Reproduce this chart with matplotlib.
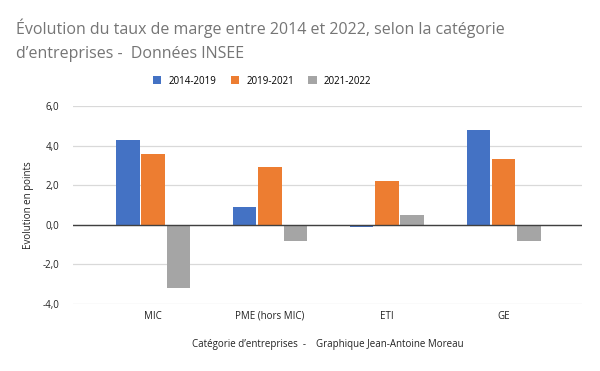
import numpy as np
import matplotlib
matplotlib.use("Agg")
import matplotlib.pyplot as plt
from matplotlib.ticker import FuncFormatter

categories = ["MIC", "PME (hors MIC)", "ETI", "GE"]
periods = ["2014-2019", "2019-2021", "2021-2022"]
v_2014_2019 = [4.3, 0.9, -0.1, 4.8]
v_2019_2021 = [3.6, 2.9, 2.2, 3.3]
v_2021_2022 = [-3.2, -0.8, 0.5, -0.8]
colors = ["#4472C4", "#ED7D31", "#A5A5A5"]

plt.rcParams['font.family'] = ['Open Sans', 'DejaVu Sans']

fig = plt.figure(figsize=(6, 3.71), dpi=100)
ax = fig.add_axes([73/600, 1-304/371, (582-73)/600, (304-106)/371])

x = np.arange(len(categories))
w = 0.197
step = 0.214
for i, (vals, lab) in enumerate(zip([v_2014_2019, v_2019_2021, v_2021_2022], periods)):
    ax.bar(x + (i-1)*step, vals, width=w, color=colors[i], label=lab, zorder=3)

ax.set_ylim(-4, 6)
ax.set_yticks([-4, -2, 0, 2, 4, 6])
ax.yaxis.set_major_formatter(FuncFormatter(lambda v, p: f"{v:.1f}".replace(".", ",")))
ax.set_xlim(-0.684, 3.667)
ax.set_xticks(x)
ax.set_xticklabels(categories)
ax.grid(axis='y', color='#D9D9D9', linewidth=0.9, zorder=0)
ax.axhline(0, color='#404040', linewidth=1, zorder=4)
for s in ax.spines.values():
    s.set_visible(False)
ax.tick_params(axis='both', length=0, labelsize=7, colors='#222222')
ax.tick_params(axis='x', pad=5)
ax.tick_params(axis='y', pad=10)

ax.set_ylabel("Evolution en points", fontsize=7, color='#222222', labelpad=6)
ax.set_xlabel("Catégorie d\u2019entreprises  -    Graphique Jean-Antoine Moreau",
              fontsize=7, color='#222222', labelpad=12)

fig.text(16/600, 1-28/371, "Évolution du taux de marge entre 2014 et 2022, selon la catégorie",
         fontsize=11.5, color='#757575', va='center', ha='left')
fig.text(16/600, 1-54/371, "d\u2019entreprises -  Données INSEE",
         fontsize=11.5, color='#757575', va='center', ha='left')

fig.legend(loc='center', bbox_to_anchor=(262/600, 1-81/371), ncol=3, frameon=False,
           fontsize=7, handlelength=0.9, handleheight=0.9, columnspacing=1.5, handletextpad=0.7)

fig.savefig("out.png", dpi=100)
